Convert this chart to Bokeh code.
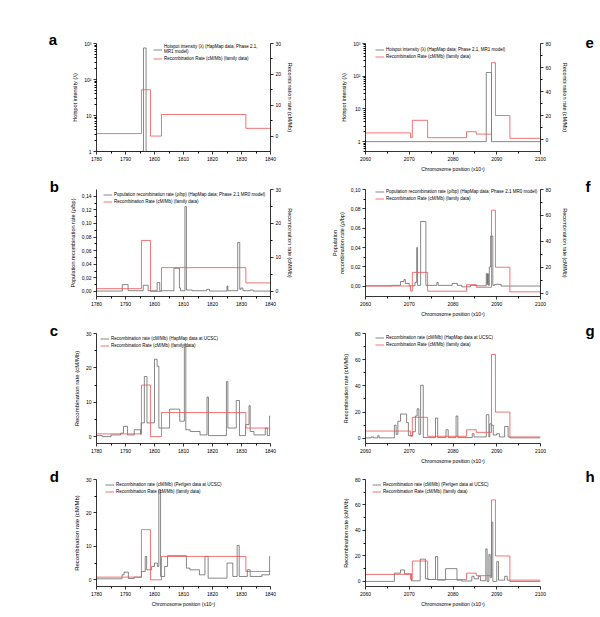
from bokeh.plotting import figure
from bokeh.layouts import column, row
from bokeh.models import (Range1d, LinearAxis, LinearScale, Legend, LegendItem,
                          FixedTicker, CustomJSTickFormatter)
from bokeh.embed import file_html
from bokeh.resources import INLINE

FONT = "Liberation Sans"
GREY = "#555555"
RED = "#f05050"

# ---------------- data ----------------
x_ticks_L = [1780, 1790, 1800, 1810, 1820, 1830, 1840]
x_ticks_R = [2060, 2070, 2080, 2090, 2100]

# family recombination rate (cM/Mb), step positions (value starts at position)
fam_pos_L = [1780, 1795.5, 1798.6, 1802.4, 1831.5, 1840]
fam_val_L = [0.8, 15.0, 0.0, 7.0, 2.5, 2.5]
fam_pos_R = [2060, 2070.3, 2070.7, 2074.2, 2083.1, 2085.3, 2088.8, 2089.7, 2093.0, 2100]
fam_val_R = [5.5, 1.5, 16.0, 1.5, 6.5, 4.5, 64.0, 20.0, 1.0, 1.0]

# a: hotspot intensity (lambda)
a_pos = [1780, 1796.2, 1797.1, 1840]
a_val = [1.0, 750.0, 1.0, 1.0]
# e: hotspot intensity (lambda)
e_pos = [2060, 2087.6, 2088.8, 2100]
e_val = [1.0, 130.0, 1.0, 1.0]

# b: population recombination rate (rho/bp)
b_pos = [1780, 1788.9, 1790.9, 1796.1, 1797.8, 1800.9, 1801.8, 1806.7, 1808.6, 1809.0,
         1810.5, 1811.0, 1813.0, 1818.0, 1819.0, 1825.0, 1825.3, 1828.7, 1829.4, 1829.8,
         1830.5, 1833.0, 1834.0, 1840]
b_val = [0.0005, 0.010, 0.001, 0.009, 0.001, 0.013, 0.001, 0.034, 0.005, 0.001,
         0.125, 0.002, 0.001, 0.003, 0.0005, 0.008, 0.001, 0.072, 0.003, 0.005,
         0.001, 0.002, 0.0005, 0.0005]
# f: population recombination rate (rho/bp)
f_pos = [2060, 2066.0, 2068.0, 2068.8, 2069.1, 2070.0, 2071.3, 2071.7, 2071.9, 2072.6,
         2073.8, 2076.3, 2076.6, 2079.8, 2081.0, 2082.0, 2084.0, 2085.5, 2087.6, 2087.8,
         2087.9, 2088.1, 2088.3, 2088.6, 2089.1, 2089.5, 2091.0, 2100]
f_val = [0.0005, 0.001, 0.005, 0.007, 0.003, 0.0005, 0.004, 0.040, 0.001, 0.067,
         0.001, 0.004, 0.001, 0.003, 0.001, -0.0005, 0.001, 0.0005, 0.013, 0.002,
         0.013, 0.001, 0.020, 0.052, 0.001, 0.002, 0.0003, 0.0003]

# c: HapMap recombination rate at UCSC (cM/Mb)
c_pos = [1780, 1782, 1785, 1788.3, 1789.3, 1790.7, 1793, 1795.2, 1795.4, 1796.5,
         1797.4, 1800.0, 1800.9, 1801.5, 1805.2, 1808.7, 1810.3, 1810.8, 1812.3, 1815.7,
         1818.1, 1818.6, 1824.8, 1825.3, 1828.2, 1829.3, 1831.4, 1832.6, 1833.0, 1834.3,
         1838.2, 1838.9, 1839.7, 1840]
c_val = [0.3, 0.0, 0.5, 1.0, 3.0, 0.5, 2.0, 0.7, 4.0, 17.5,
         4.0, 22.5, 20.5, 2.5, 8.0, 4.5, 27.0, 2.0, 1.5, 0.5,
         11.5, 0.3, 16.0, 2.5, 10.5, 0.3, 3.5, 9.0, 1.5, 0.5,
         2.5, 0.3, 6.0, 6.0]
# d: Perlegen recombination rate at UCSC (cM/Mb)
d_pos = [1780, 1788.8, 1789.5, 1791, 1793, 1795.5, 1796.8, 1797.3, 1799.0, 1800.0,
         1801.0, 1801.5, 1802.1, 1803.5, 1804.5, 1811.0, 1812.2, 1815.5, 1817.4, 1818.5,
         1825.0, 1827.0, 1828.5, 1829.2, 1832.0, 1833.0, 1837.0, 1839.7, 1840]
d_val = [0.3, 1.5, 2.3, 0.4, 0.8, 2.5, 7.0, 3.0, 4.0, 5.0,
         4.0, 27.0, 1.0, 4.0, 7.2, 3.5, 3.0, 1.5, 7.0, 0.5,
         5.0, 1.0, 10.3, 1.0, 3.0, 1.0, 1.5, 7.0, 7.0]
# g: HapMap recombination rate at UCSC (cM/Mb)
g_pos = [2060, 2061.3, 2061.8, 2062.8, 2063.1, 2066.6, 2067.0, 2067.4, 2068.0, 2069.4,
         2069.8, 2070.8, 2071.4, 2071.8, 2072.2, 2072.6, 2073.2, 2076.0, 2076.5, 2078.4,
         2078.9, 2080.7, 2081.1, 2084.4, 2084.8, 2087.6, 2088.2, 2088.4, 2088.8, 2089.2,
         2090.0, 2090.6, 2091.8, 2092.6, 2093.0, 2100]
g_val = [0.3, 1.0, 0.3, 2.0, 0.3, 10.0, 3.0, 13.0, 18.5, 12.0,
         2.0, 5.0, 17.0, 22.5, 3.0, 40.5, 0.5, 15.5, 0.5, 6.5,
         0.5, 17.0, 0.5, 3.5, 1.0, 18.0, 1.0, 11.0, 10.0, 2.5,
         3.5, 1.0, 9.0, 1.0, 0.3, 0.3]
# h: Perlegen recombination rate at UCSC (cM/Mb)
h_pos = [2060, 2066.6, 2068.0, 2068.9, 2070.5, 2072.5, 2073.7, 2074.5, 2076.0, 2076.5,
         2078.3, 2080.9, 2082.0, 2084.3, 2084.8, 2085.8, 2086.3, 2087.5, 2087.8, 2088.2,
         2088.5, 2088.8, 2089.1, 2090.0, 2090.4, 2091.8, 2092.4, 2093.0, 2100]
h_val = [0.0, 6.5, 9.0, 6.0, 0.5, 17.5, 2.0, 1.5, 19.5, 1.0,
         10.0, 1.0, 0.3, 4.0, 2.0, 4.0, 0.5, 25.5, 0.0, 21.0,
         3.0, 46.5, 0.0, 15.5, 1.0, 4.0, 1.0, 0.0, 0.0]

# ---------------- texts ----------------
X_TITLE = "Chromosome position (x10\u2074)"
RR_TITLE = "Recombination rate (cM/Mb)"
FAM_LEG = "Recombination Rate (cM/Mb) (family data)"
HOT_TITLE = "Hotspot intensity (\u03bb)"
RHO_TITLE = "Population recombination rate (\u03c1/bp)"
HOT_LEG_A = "Hotspot intensity (\u03bb) (HapMap data; Phase 2.1,\nMR1 model)"
HOT_LEG_E = "Hotspot intensity (\u03bb) (HapMap data; Phase 2.1, MR1 model)"
RHO_LEG = "Population recombination rate (\u03c1/bp) (HapMap data; Phase 2.1 MR0 model)"
UCSC_LEG = "Recombination rate (cM/Mb) (HapMap data at UCSC)"
PERL_LEG = "Recombination rate (cM/Mb) (Perlgen data at UCSC)"

log_ticks = [1, 10, 100, 1000]
log_minor = [m * d for d in (0.1, 1, 10, 100) for m in range(2, 10)]


def style_axis(ax, label_size="5.5px"):
    ax.axis_line_color = "black"
    ax.axis_line_width = 0.8
    ax.major_tick_line_color = "black"
    ax.minor_tick_line_color = "black"
    ax.major_tick_line_width = 0.8
    ax.major_tick_out = 3
    ax.major_tick_in = 0
    ax.minor_tick_out = 2
    ax.minor_tick_in = 0
    ax.major_label_text_font = FONT
    ax.major_label_text_font_size = "5px"
    ax.major_label_text_color = "black"
    ax.major_label_standoff = 2
    ax.axis_label_text_font = FONT
    ax.axis_label_text_font_size = label_size
    ax.axis_label_text_font_style = "normal"
    ax.axis_label_text_color = "black"
    ax.axis_label_standoff = 3


def make_panel(side, letter, height, bt, bb, y_range, y_log,
               y_ticks, y_minor, y_title, grey_pos, grey_val, grey_leg,
               fam_pos, fam_val, right=None, x_title=None, comma=False,
               leg_loc=(5, 90), letter_off=-47, letter_standoff=-7,
               y_title_size="5.5px"):
    if side == "L":
        width, bl, br = 300, 96, 30
        xr = Range1d(1780, 1840)
        xt = x_ticks_L
    else:
        width, bl, br = 300, 65, 60
        xr = Range1d(2060, 2100)
        xt = x_ticks_R
    xminor = [v + 5 for v in xt[:-1]]
    p = figure(width=width, height=height, x_range=xr,
               y_range=Range1d(*y_range),
               y_axis_type="log" if y_log else "linear",
               output_backend="svg", toolbar_location=None,
               min_border=0, min_border_left=bl, min_border_right=br,
               min_border_top=bt, min_border_bottom=bb)
    p.outline_line_color = None
    p.grid.visible = False
    p.background_fill_color = "white"
    p.border_fill_color = "white"

    # panel letter as the plot title
    p.title.text = letter
    p.title.align = "left"
    p.title.offset = letter_off
    p.title.standoff = letter_standoff
    p.title.text_font = FONT
    p.title.text_font_size = "15px"
    p.title.text_font_style = "bold"
    p.title.text_color = "black"

    xa = p.xaxis[0]
    xa.ticker = FixedTicker(ticks=xt, minor_ticks=xminor)
    style_axis(xa, "5px")
    if x_title:
        xa.axis_label = x_title
        xa.axis_label_standoff = 2

    ya = p.yaxis[0]
    ya.ticker = FixedTicker(ticks=y_ticks, minor_ticks=y_minor)
    style_axis(ya, y_title_size)
    ya.axis_label = y_title
    if y_log:
        ya.formatter = CustomJSTickFormatter(code="""
            const m = {1: '1', 10: '10', 100: '10\u00b2', 1000: '10\u00b3'};
            return m[tick] !== undefined ? m[tick] : '';
        """)
    elif comma:
        ya.formatter = CustomJSTickFormatter(
            code="return tick.toFixed(2).replace('.', ',');")
    else:
        ya.formatter = CustomJSTickFormatter(code="return tick.toFixed(0);")

    rg = p.step(grey_pos, grey_val, mode="after", line_color=GREY, line_width=0.7)
    rname = "default"
    if right is not None:
        rrange, rticks, rminor = right
        p.extra_y_ranges = {"r": Range1d(*rrange)}
        p.extra_y_scales = {"r": LinearScale()}
        rname = "r"
        ra = LinearAxis(y_range_name="r", axis_label=RR_TITLE,
                        ticker=FixedTicker(ticks=rticks, minor_ticks=rminor))
        style_axis(ra, "5.5px")
        ra.axis_label_standoff = 8 if side == "R" else 3
        p.add_layout(ra, "right")
    rr = p.step(fam_pos, fam_val, mode="after", line_color=RED, line_width=0.8,
                y_range_name=rname)

    leg = Legend(items=[LegendItem(label=grey_leg, renderers=[rg]),
                        LegendItem(label=FAM_LEG, renderers=[rr])],
                 location=leg_loc, orientation="vertical",
                 border_line_color=None, background_fill_alpha=0,
                 padding=0, margin=0, spacing=2, glyph_width=9,
                 glyph_height=5, label_height=5, label_standoff=2,
                 label_text_font=FONT, label_text_font_size="4.5px",
                 label_text_color="black")
    p.add_layout(leg, "center")
    return p


pa = make_panel("L", "a", 176, 43, 25, (1, 1000), True, log_ticks, log_minor,
                HOT_TITLE, a_pos, a_val, HOT_LEG_A, fam_pos_L, fam_val_L,
                right=((-5, 30), [0, 10, 20, 30], [5, 15, 25]),
                leg_loc=(57, 90), letter_off=-47.7, letter_standoff=-9)
pe = make_panel("R", "e", 176, 43, 24, (0.5, 1000), True, log_ticks, log_minor,
                HOT_TITLE, e_pos, e_val, HOT_LEG_E, fam_pos_R, fam_val_R,
                right=((-10, 80), [0, 20, 40, 60, 80], [10, 30, 50, 70]),
                x_title=X_TITLE, leg_loc=(10, 92), letter_off=220, letter_standoff=-8)

pb = make_panel("L", "b", 144, 13, 24, (-0.0075, 0.15), False,
                [0, 0.02, 0.04, 0.06, 0.08, 0.10, 0.12, 0.14],
                [0.01, 0.03, 0.05, 0.07, 0.09, 0.11, 0.13],
                RHO_TITLE, b_pos, b_val, RHO_LEG, fam_pos_L, fam_val_L,
                right=((-1.5, 30), [0, 10, 20, 30], [5, 15, 25]), comma=True,
                leg_loc=(7, 92), letter_off=-46.7, letter_standoff=-10)
pf = make_panel("R", "f", 144, 13, 22, (-0.0105, 0.10), False,
                [0, 0.02, 0.04, 0.06, 0.08, 0.10],
                [0.01, 0.03, 0.05, 0.07, 0.09],
                "Population\nrecombination rate (\u03c1/bp)", f_pos, f_val, RHO_LEG,
                fam_pos_R, fam_val_R,
                right=((-2.6, 80), [0, 20, 40, 60, 80], [10, 30, 50, 70]),
                x_title=X_TITLE, comma=True, leg_loc=(10, 95),
                letter_off=220, letter_standoff=-10)

pc = make_panel("L", "c", 146, 13, 23, (-2, 30), False, [0, 10, 20, 30], [5, 15, 25],
                RR_TITLE, c_pos, c_val, UCSC_LEG, fam_pos_L, fam_val_L,
                leg_loc=(4, 95), letter_off=-46.7, letter_standoff=-10,
                y_title_size="6px")
pg = make_panel("R", "g", 146, 13, 21, (-4, 80), False, [0, 20, 40, 60, 80],
                [10, 30, 50, 70],
                RR_TITLE, g_pos, g_val, UCSC_LEG, fam_pos_R, fam_val_R,
                x_title=X_TITLE, leg_loc=(10, 96), letter_off=220, letter_standoff=-10)

pd_ = make_panel("L", "d", 143, 13, 22, (-2, 30), False, [0, 10, 20, 30], [5, 15, 25],
                 RR_TITLE, d_pos, d_val, PERL_LEG, fam_pos_L, fam_val_L,
                 x_title=X_TITLE, leg_loc=(9, 92), letter_off=-46.7,
                 letter_standoff=-10, y_title_size="6px")
ph = make_panel("R", "h", 143, 13, 19, (-4, 80), False, [0, 20, 40, 60, 80],
                [10, 30, 50, 70],
                RR_TITLE, h_pos, h_val, PERL_LEG, fam_pos_R, fam_val_R,
                x_title=X_TITLE, leg_loc=(7, 92), letter_off=220, letter_standoff=-10)

layout = column(row(pa, pe, spacing=0), row(pb, pf, spacing=0),
                row(pc, pg, spacing=0), row(pd_, ph, spacing=0), spacing=0)

open("out.html", "w").write(file_html(layout, INLINE))
